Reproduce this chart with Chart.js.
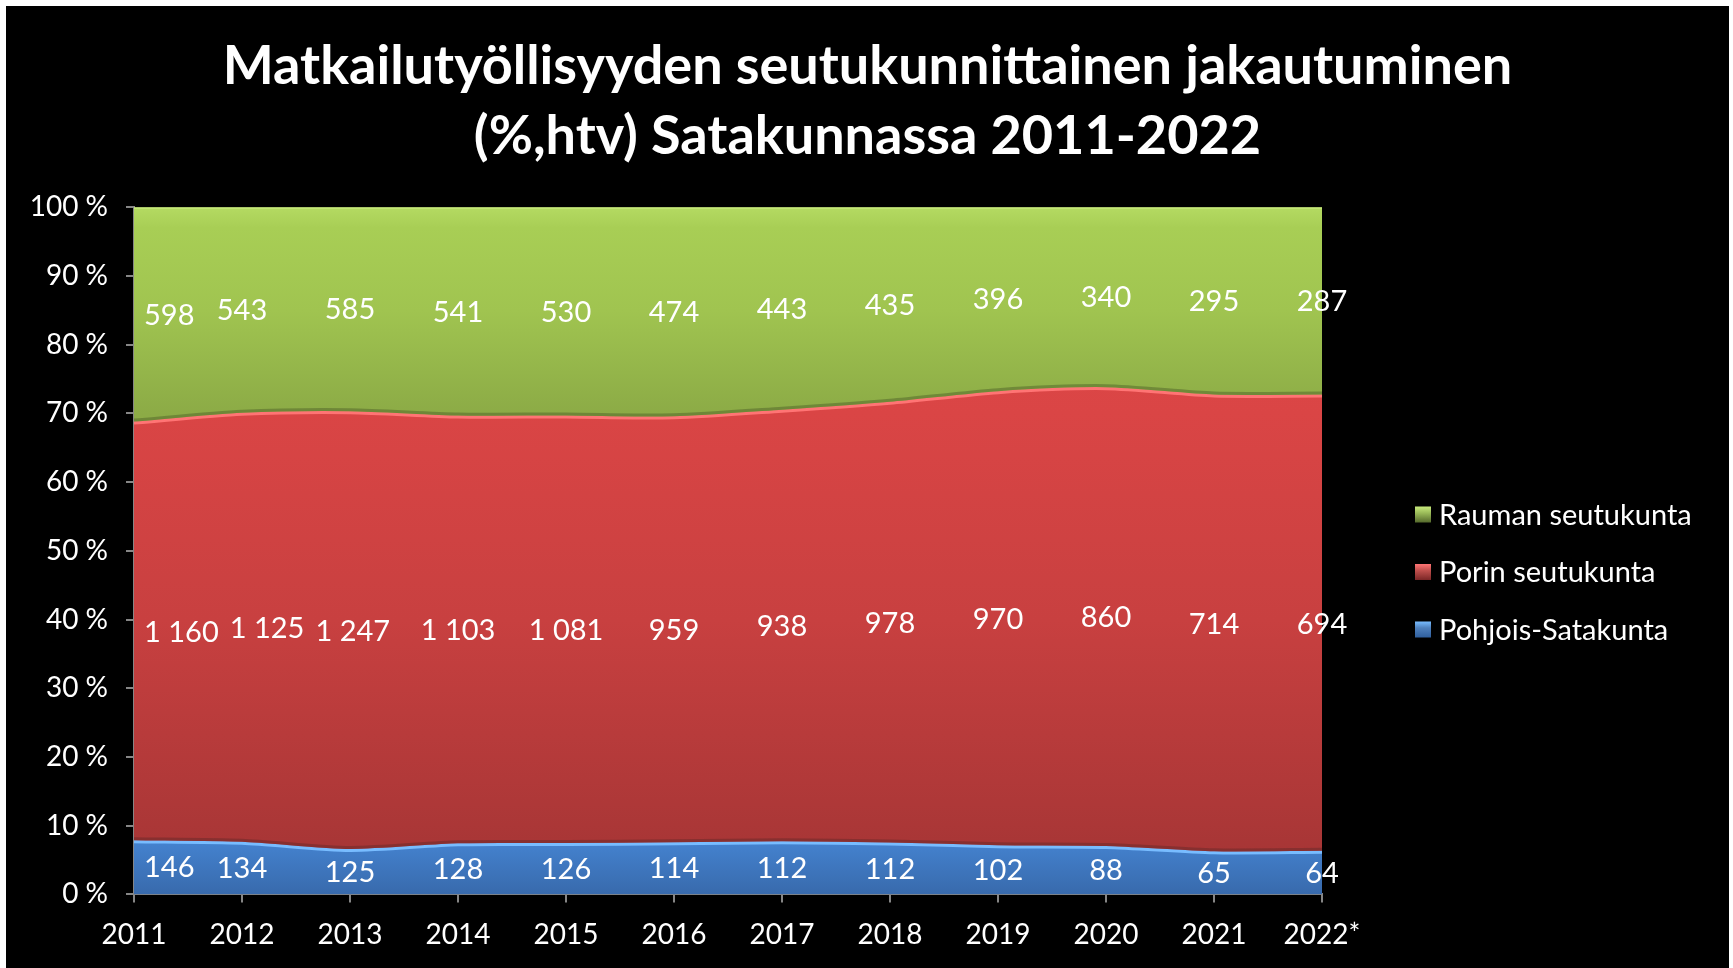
<!DOCTYPE html>
<html>
<head>
<meta charset="utf-8">
<script src="https://cdn.jsdelivr.net/npm/chart.js@4/dist/chart.umd.min.js"></script>
<style>
  html, body { margin: 0; padding: 0; background: #ffffff; }
  #frame { position: absolute; left: 6px; top: 6px; width: 1723px; height: 962px; background: #000000; }
  #c { display: block; }
</style>
</head>
<body>
<div id="frame"><canvas id="c" width="1723" height="962"></canvas></div>
<script>
// ---- data (htv = full-time equivalents) ----
const years = ['2011', '2012', '2013', '2014', '2015', '2016', '2017', '2018', '2019', '2020', '2021', '2022*'];
const pohjoisSatakunta = [146, 134, 125, 128, 126, 114, 112, 112, 102, 88, 65, 64];
const porinSeutukunta  = [1160, 1125, 1247, 1103, 1081, 959, 938, 978, 970, 860, 714, 694];
const raumanSeutukunta = [598, 543, 585, 541, 530, 474, 443, 435, 396, 340, 295, 287];
const seriesNames = ['Pohjois-Satakunta', 'Porin seutukunta', 'Rauman seutukunta'];
const titleLines = ['Matkailutyöllisyyden seutukunnittainen jakautuminen', '(%,htv) Satakunnassa 2011-2022'];
const yTickValues = [0, 10, 20, 30, 40, 50, 60, 70, 80, 90, 100];

const rawSeries = [pohjoisSatakunta, porinSeutukunta, raumanSeutukunta];
const totals = years.map((_, i) => rawSeries.reduce((s, arr) => s + arr[i], 0));
const shares = rawSeries.map(arr => arr.map((v, i) => v / totals[i] * 100));

function fmt(n) {
  if (n >= 1000) {
    const th = Math.floor(n / 1000), rest = String(n % 1000).padStart(3, '0');
    return th + ' ' + rest;
  }
  return String(n);
}

function grad(stops) {
  return function (ctx) {
    const ca = ctx.chart.chartArea;
    if (!ca) return stops[0][1];
    const g = ctx.chart.ctx.createLinearGradient(0, ca.top, 0, ca.bottom);
    stops.forEach(s => g.addColorStop(s[0], s[1]));
    return g;
  };
}

const fills = [
  grad([[0, '#5494e0'], [0.88, '#5494e0'], [0.93, '#4380cc'], [1, '#386aac']]),
  grad([[0, '#e04a4a'], [0.3, '#da4545'], [0.6, '#c84040'], [0.9, '#ab3737'], [1, '#a03333']]),
  grad([[0, '#b4da62'], [0.03, '#a8ce55'], [0.15, '#a0c450'], [0.3, '#8cab46'], [1, '#7e9a3e']])
];
const edgeColors = ['#78bcff', '#ff7474', '#c8ea7c'];
const shadowColors = ['#2f5f9e', '#7a2626', '#55692c'];
const legendColors = ['#4f81bd', '#c0504d', '#9bbb59'];

const datasets = shares.map((arr, k) => ({
  label: seriesNames[k],
  data: arr,
  fill: k === 0 ? 'origin' : '-1',
  backgroundColor: fills[k],
  borderColor: edgeColors[k],
  borderWidth: 3,
  pointRadius: 0,
  tension: 0.25
}));

const shadowPlugin = {
  id: 'bandShadow',
  afterDatasetsDraw(chart) {
    const ctx = chart.ctx;
    const ca = chart.chartArea;
    ctx.save();
    ctx.beginPath();
    ctx.rect(ca.left, ca.top, ca.right - ca.left, ca.bottom - ca.top);
    ctx.clip();
    [1, 0].forEach(k => {
      const line = chart.getDatasetMeta(k).dataset;
      ctx.save();
      ctx.translate(0, -3);
      ctx.beginPath();
      line.path(ctx);
      ctx.strokeStyle = k === 0 ? '#6e2a2a' : '#55692c';
      ctx.globalAlpha = 0.55;
      ctx.lineWidth = 3;
      ctx.stroke();
      ctx.restore();
    });
    ctx.restore();
  }
};

const labelPlugin = {
  id: 'bandLabels',
  afterDatasetsDraw(chart) {
    const ctx = chart.ctx;
    const xs = chart.scales.x, ys = chart.scales.y;
    ctx.save();
    ctx.font = '29px Lato';
    ctx.fillStyle = '#ffffff';
    ctx.textBaseline = 'middle';
    ctx.textAlign = 'left';
    rawSeries.forEach((arr, k) => {
      let prevRight = -Infinity;
      arr.forEach((v, i) => {
        let below = 0;
        for (let j = 0; j < k; j++) below += shares[j][i];
        const y = ys.getPixelForValue(below + shares[k][i] / 2);
        const x = xs.getPixelForValue(i);
        const txt = fmt(v);
        const w = ctx.measureText(txt).width;
        let left = (i === 0) ? x + 10 : x - w / 2;
        if (left < prevRight + 11) left = prevRight + 11;
        ctx.fillText(txt, left, y);
        prevRight = left + w;
      });
    });
    ctx.restore();
  }
};

const legendPlugin = {
  id: 'sideLegend',
  afterDraw(chart) {
    const ctx = chart.ctx;
    const ca = chart.chartArea;
    const x0 = ca.right + 93;
    const yCenter = 566;
    const step = 57.5;
    ctx.save();
    ctx.font = '29px Lato';
    ctx.textBaseline = 'middle';
    ctx.textAlign = 'left';
    [2, 1, 0].forEach((k, idx) => {
      const y = yCenter + (idx - 1) * step;
      const g = ctx.createLinearGradient(0, y - 8, 0, y + 8);
      g.addColorStop(0, edgeColors[k]);
      g.addColorStop(0.4, legendColors[k]);
      g.addColorStop(1, shadowColors[k]);
      ctx.fillStyle = g;
      ctx.fillRect(x0, y - 8, 16, 16);
      ctx.fillStyle = '#ffffff';
      ctx.fillText(seriesNames[k], x0 + 24, y + 1);
    });
    ctx.restore();
  }
};

new Chart(document.getElementById('c'), {
  type: 'line',
  data: { labels: years, datasets: datasets },
  options: {
    responsive: false,
    animation: false,
    layout: { padding: { left: 0, right: 0, top: 0, bottom: 0 } },
    plugins: {
      legend: { display: false },
      tooltip: { enabled: false },
      title: {
        display: true,
        text: titleLines,
        color: '#ffffff',
        font: { family: 'Lato', size: 54, weight: 'bold', lineHeight: 1.29 },
        padding: { top: 26, bottom: 36 }
      }
    },
    scales: {
      x: {
        offset: false,
        grid: { drawOnChartArea: false, drawTicks: true, tickLength: 8, color: '#868686', lineWidth: 2 },
        border: { color: '#868686', width: 2 },
        ticks: { color: '#ffffff', font: { family: 'Lato', size: 28 }, padding: 16, maxRotation: 0, autoSkip: false }
      },
      y: {
        stacked: true,
        min: 0,
        max: 100,
        afterBuildTicks(scale) { scale.ticks = yTickValues.map(v => ({ value: v })); },
        afterFit(scale) { scale.width = 128; },
        grid: { drawOnChartArea: false, drawTicks: true, tickLength: 8, color: '#868686', lineWidth: 2 },
        border: { color: '#868686', width: 2 },
        ticks: { color: '#ffffff', font: { family: 'Lato', size: 28 }, padding: 18, callback: v => v + ' %' }
      },
      legendSpace: {
        type: 'linear',
        position: 'right',
        display: true,
        grid: { display: false },
        border: { display: false },
        ticks: { display: false },
        afterFit(scale) { scale.width = 407; }
      }
    }
  },
  plugins: [shadowPlugin, labelPlugin, legendPlugin]
});
</script>
</body>
</html>
